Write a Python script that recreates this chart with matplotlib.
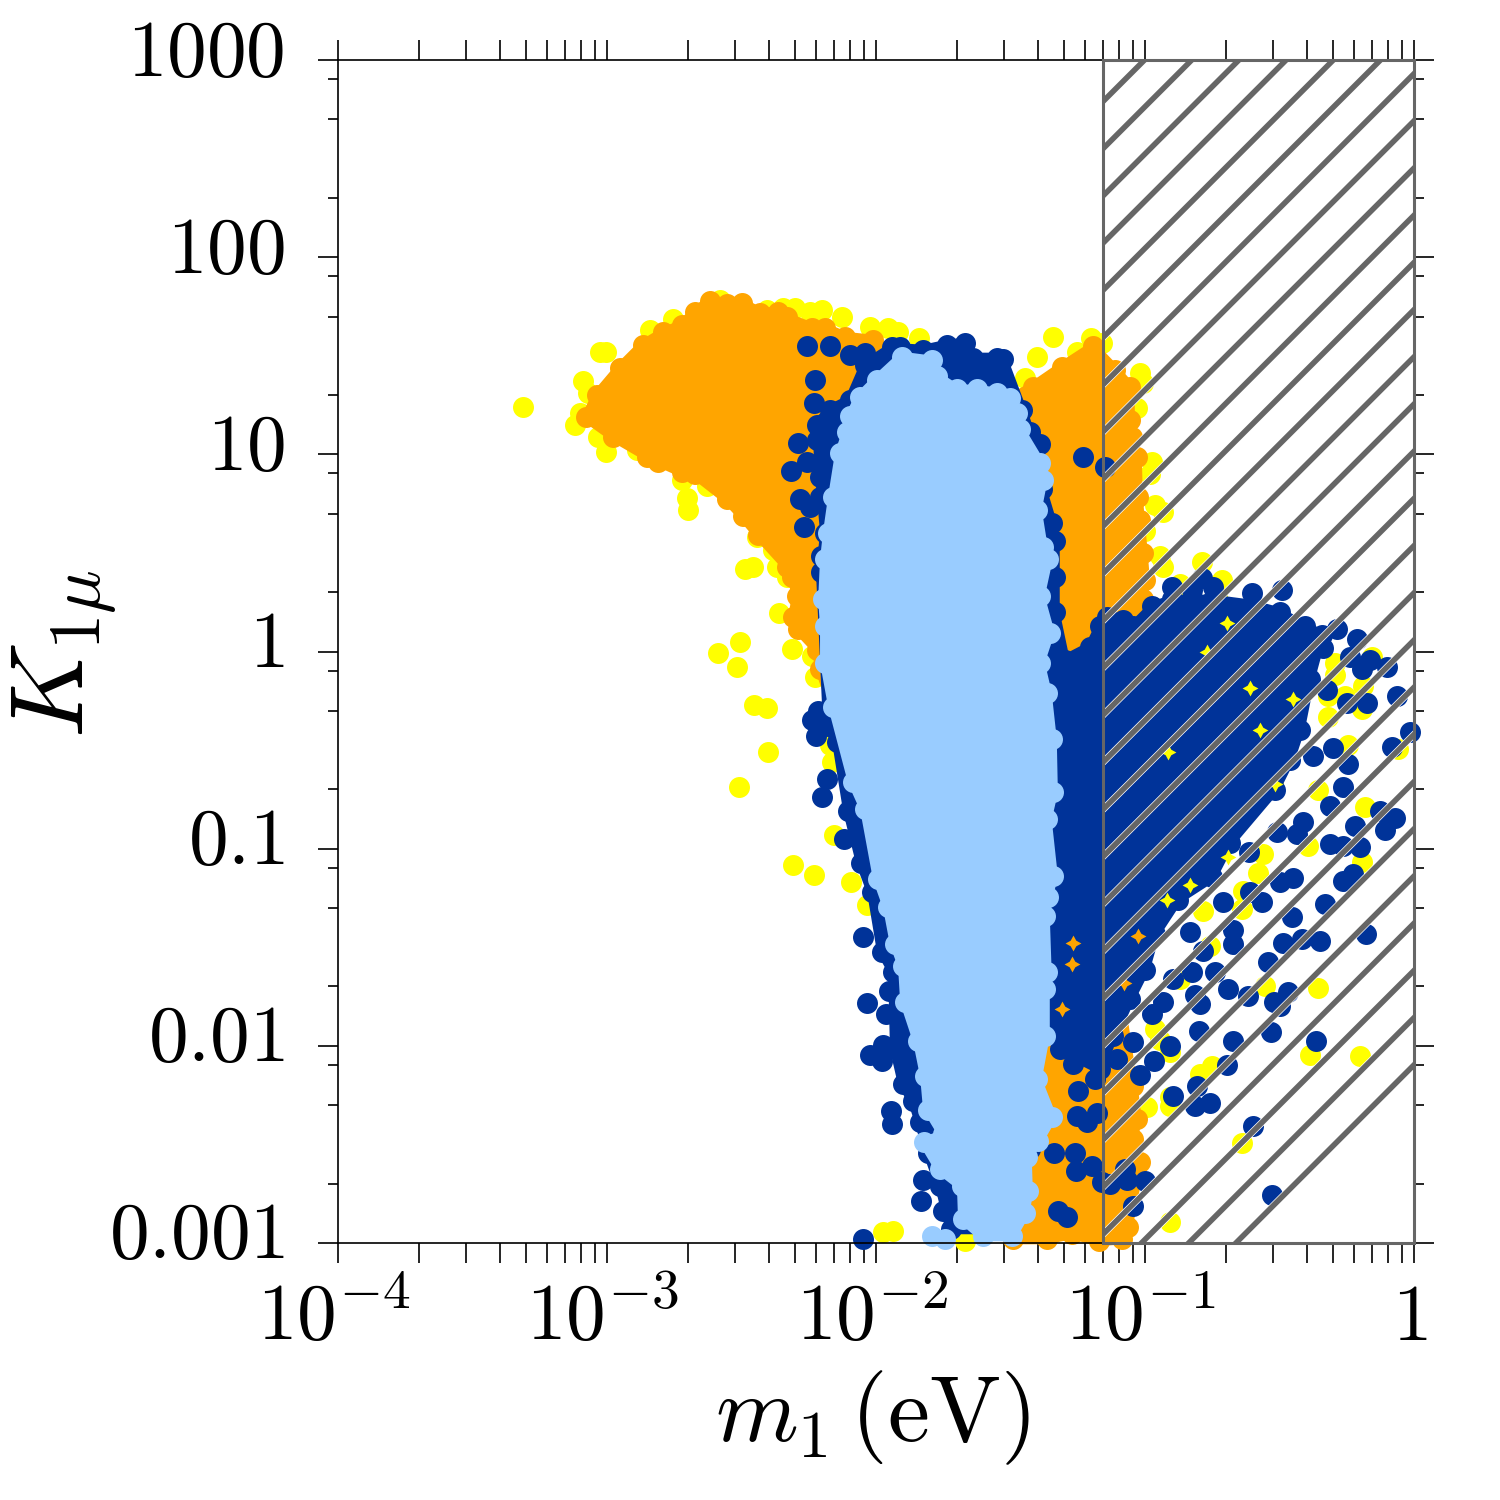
import numpy as np
import matplotlib
matplotlib.use("Agg")
import matplotlib.pyplot as plt
from matplotlib.ticker import FixedLocator, FixedFormatter, NullFormatter
from matplotlib.transforms import IdentityTransform, ScaledTranslation

plt.rcParams['mathtext.fontset'] = 'cm'
plt.rcParams['font.family'] = ['DejaVu Sans']

# All values are log10(m1 / eV), log10(K_1mu)
yellow_logm = [-3.312,-3.026,-3.004,-3.089,-3.071,-3.100,-3.119,-3.034,-3.004,-2.889,-2.840,-2.755,-2.580,-2.405,-2.346,-2.301,-2.246,-2.201,-2.127,-2.023,-1.956,-1.918,-1.840,
 -2.721,-2.703,-2.699,-2.628,-2.487,-2.457,-2.443,-2.383,-2.368,-2.331,-2.361,-2.506,-2.588,-2.517,-2.454,-2.405,-2.402,-2.312,-2.238,-2.227,-2.171,-2.164,-2.509,-2.156,-2.309,-2.231,-2.093,-2.034,-1.974,-1.937,-1.669,
 -1.342,-1.402,-1.446,-1.253,-1.201,-1.160,-1.019,-1.008,-1.030,-0.974,-0.982,-0.963,-0.933,-1.000,-0.945,-0.933,-0.788,-0.714,-0.870,-0.833,-0.733,
 -0.294,-0.294,-0.157,-0.190,-0.257,-0.320,-0.320,-0.194,-0.246,-0.060,-0.450,-0.573,-0.525,-0.915,-0.183,-0.357,-0.525,-0.394,-0.194,-0.562,-0.580,-0.636,-0.640,-0.785,-0.759,-0.870,-0.554,-0.357,-0.963,-0.945,-0.907,-0.387,-0.201,-0.796,-0.751,-0.907,-0.907,-0.993,-0.640,-0.907,-1.119,-1.216]
yellow_logK = [1.242,1.521,1.521,1.374,1.313,1.212,1.151,1.090,1.014,1.024,1.633,1.684,1.785,1.734,1.744,1.744,1.724,1.734,1.694,1.648,1.643,1.618,1.592,
 0.872,0.781,0.720,0.837,0.416,0.431,0.583,0.517,0.431,0.380,0.193,0.046,-0.010,-0.081,-0.269,-0.289,-0.512,0.015,-0.025,-0.127,-0.472,-0.558,-0.685,-0.933,-1.085,-1.136,-1.171,-1.288,-2.946,-2.941,-2.992,
 1.597,1.496,1.389,1.521,1.592,1.567,1.415,1.364,1.237,0.963,0.898,0.745,0.710,0.609,0.482,0.431,0.456,0.365,0.340,0.264,0.279,
 -0.056,-0.117,-0.030,-0.177,-0.228,-0.228,-0.330,-0.294,-0.472,-0.497,-0.243,-0.431,-0.436,-0.512,-0.791,-0.700,-0.674,-0.989,-1.070,-1.029,-1.121,-1.217,-1.308,-1.318,-1.496,-1.663,-1.699,-1.709,-1.917,-1.968,-2.033,-2.049,-2.054,-2.145,-2.104,-2.257,-2.307,-2.312,-2.495,-2.896,-2.459,-2.906]
# small patches of yellow and orange left showing through the navy cloud
yellow_gap_logm = [-0.696,-0.770,-0.610,-0.450,-0.573,-0.915,-0.517,-0.350,-0.833,-0.692,-0.919]
yellow_gap_logK = [0.147,0.000,-0.183,-0.243,-0.396,-0.512,-0.674,-0.715,-1.182,-1.040,-1.258]
orange_gap_logm = [-1.026,-1.078,-1.272,-1.268,-1.309]
orange_gap_logK = [-1.445,-1.679,-1.587,-1.476,-1.815]

orange_logm = [-3.078,-3.037,-2.952,-2.866,-2.792,-2.721,-2.673,-2.617,-2.554,-2.498,-2.431,-2.365,-2.331,-2.238,-2.190,-2.115,-2.011,-1.725,-1.502,-1.417,-1.309,-1.194,-1.112,-1.056,-1.056,-1.049,-1.030,-1.026,-1.019,-1.008,-1.000,-1.008,-1.093,-1.130,-1.093,-1.045,-1.030,-1.045,-1.019,-1.064,-1.086,-1.171,-1.272,-1.365,-1.491,-1.614,-1.911,-2.208,-2.220,-2.290,-2.309,-2.294,-2.312,-2.331,-2.439,-2.495,-2.554,-2.673,-2.721,-2.811,-2.851,-2.978]
orange_logK = [1.187,1.303,1.440,1.557,1.618,1.658,1.724,1.780,1.760,1.770,1.719,1.724,1.694,1.643,1.643,1.597,1.582,1.303,1.278,1.344,1.445,1.547,1.430,1.344,1.176,1.090,0.989,0.786,0.669,0.502,0.365,0.264,0.010,-1.258,-1.765,-2.206,-2.373,-2.475,-2.591,-2.921,-2.982,-2.992,-2.956,-2.982,-2.982,-2.525,-1.258,-0.091,0.010,0.112,0.177,0.279,0.380,0.431,0.593,0.685,0.771,0.898,0.908,0.963,0.989,1.090]

navy_edge_logm = [-2.097,-2.041,-1.941,-1.825,-1.736,-1.669,-1.640,-1.550,-1.528,-1.458,-1.428,-1.391,-1.383,-1.346,-1.335,-1.335,-1.335,-1.298,-1.205,-1.168,-1.142,-1.082,-1.045,-0.971,-0.900,-0.826,-0.748,-0.603,-0.499,-0.406,-0.342,-0.387,-0.424,-0.461,-0.517,-0.684,-0.751,-0.878,-0.963,-1.000,-1.056,-1.119,-1.168,-1.316,-1.391,-1.428,-1.539,-1.723,-1.762,-1.807,-1.837,-1.863,-1.900,-1.930,-1.937,-1.978,-2.015,-2.056,-2.104,-2.145,-2.179,-2.205,-2.190,-2.208,-2.220,-2.171]
navy_edge_logK = [1.278,1.455,1.542,1.531,1.557,1.567,1.491,1.491,1.481,1.227,1.111,1.050,0.822,0.654,0.558,0.380,0.198,-0.041,0.025,0.127,0.177,0.162,0.127,0.228,0.264,0.264,0.264,0.238,0.198,0.127,0.086,-0.142,-0.396,-0.548,-0.700,-0.969,-1.146,-1.258,-1.435,-1.613,-1.765,-1.952,-2.120,-2.018,-1.815,-2.525,-2.931,-2.931,-2.713,-2.541,-2.388,-2.282,-2.196,-2.018,-1.623,-1.526,-1.222,-1.075,-0.811,-0.461,-0.380,0.401,0.603,0.887,1.151,1.227]

navy_logm = [-2.257,-2.171,-2.097,-2.041,-1.911,-2.227,-2.231,-2.290,-2.316,-2.283,-2.268,-2.220,-2.257,-2.208,-2.246,-2.205,-2.238,-2.216,-2.223,-2.182,-2.201,-2.119,-2.048,-1.952,-2.034,-1.963,-1.881,-2.023,-1.974,-1.978,-1.944,-1.941,-1.825,-1.833,-1.751,-2.048,-1.513,
 -1.324,-1.290,-1.339,-1.261,-1.257,-1.197,-1.160,-1.130,-1.075,-1.067,-1.000,-1.045,-1.253,-1.216,-1.179,-1.249,-1.186,-1.268,-1.223,-1.272,-1.231,-1.149,
 -0.974,-0.900,-0.826,-0.788,-0.748,-0.603,-0.491,-0.287,-0.212,-0.338,-0.238,-0.194,-0.164,-0.101,-0.064,-0.015,-0.082,-0.175,-0.250,-0.324,-0.302,-0.246,-0.376,
 -0.071,-0.108,-0.127,-0.220,-0.264,-0.313,-0.313,-0.264,-0.201,-0.227,-0.264,-0.331,-0.179,-0.350,-0.417,-0.487,-0.454,-0.450,-0.499,-0.413,-0.435,-0.510,-0.614,-0.610,-0.565,-0.673,-0.673,-0.710,-0.543,-0.740,-0.785,-0.833,-0.826,-0.896,-0.692,-0.618,-0.469,-0.521,-0.499,-0.815,-0.796,-0.933,-0.974,-0.800,-0.673,-0.532,-0.365,-0.907,-0.967,-1.019,-0.696,-0.807,-0.896,-0.815,-0.759,-0.599,-0.528,-1.045,-1.104]
navy_logK = [1.547,1.547,1.506,1.516,1.542,1.379,1.258,1.060,0.913,0.771,0.629,1.075,0.963,0.786,0.735,0.482,-0.345,-0.304,-0.431,-0.649,-0.740,-0.953,-1.450,-1.724,-1.785,-1.841,-1.952,-2.044,-1.998,-2.079,-2.333,-2.394,-2.678,-2.789,-2.840,-2.982,-2.906,
 -2.840,-2.870,-2.541,-2.541,-2.637,-2.612,-2.693,-2.703,-2.627,-2.678,-2.688,-2.814,-2.358,-2.388,-2.343,-2.231,-2.170,-2.094,-1.978,-1.856,0.984,0.938,
 0.233,0.325,0.314,0.375,0.325,0.299,0.314,0.112,0.061,0.020,-0.030,-0.091,-0.041,-0.081,-0.228,-0.406,-0.482,-0.259,-0.259,-0.193,-0.487,-0.573,-0.532,
 -0.842,-0.903,-0.811,-0.887,-0.685,-0.786,-0.974,-0.989,-0.994,-1.131,-1.166,-1.283,-1.435,-1.466,-1.460,-1.476,-1.349,-1.151,-1.171,-0.867,-0.928,-0.913,-1.019,-1.222,-1.273,-1.410,-1.486,-1.273,-1.577,-1.623,-1.521,-1.425,-1.623,-1.663,-1.714,-1.749,-1.729,-1.780,-1.800,-1.744,-1.790,-1.780,-1.841,-1.927,-1.978,-1.932,-1.978,-2.003,-2.079,-2.150,-2.099,-2.206,-2.252,-2.307,-2.292,-2.409,-2.759,-1.983,-2.069]

light_edge_logm = [-1.904,-1.792,-1.773,-1.699,-1.625,-1.550,-1.502,-1.476,-1.465,-1.391,-1.380,-1.402,-1.380,-1.361,-1.391,-1.354,-1.391,-1.365,-1.346,-1.342,-1.365,-1.342,-1.361,-1.372,-1.365,-1.372,-1.372,-1.402,-1.346,-1.398,-1.439,-1.435,-1.446,-1.495,-1.603,-1.677,-1.681,-1.762,-1.822,-1.751,-1.807,-1.818,-1.844,-1.892,-1.900,-1.930,-1.956,-1.993,-2.041,-2.086,-2.160,-2.190,-2.190,-2.197,-2.190,-2.179,-2.160,-2.134,-2.108,-2.097,-2.060,-1.997]
light_edge_logK = [1.496,1.476,1.395,1.329,1.329,1.313,1.288,1.212,1.126,0.958,0.872,0.720,0.532,0.467,0.279,0.096,-0.056,-0.208,-0.446,-0.715,-0.852,-1.141,-1.247,-1.344,-1.628,-1.714,-1.952,-2.170,-2.363,-2.485,-2.566,-2.738,-2.850,-2.967,-2.967,-2.880,-2.713,-2.627,-2.490,-2.449,-2.323,-2.155,-1.978,-1.780,-1.597,-1.486,-1.298,-1.156,-0.801,-0.664,-0.279,-0.056,0.127,0.264,0.467,0.603,0.786,1.009,1.111,1.192,1.293,1.379]
light_logm = [-1.792,-1.744]
light_logK = [-2.967,-2.982]

excluded_m1 = [0.0698, 1.0]
y_major = [0.001, 0.01, 0.1, 1, 10, 100, 1000]
y_labels = ['$0.001$', '$0.01$', '$0.1$', '$1$', '$10$', '$100$', '$1000$']
x_major = [1e-4, 1e-3, 1e-2, 1e-1, 1]
x_labels = ['$10^{-4}$', '$10^{-3}$', '$10^{-2}$', '$10^{-1}$', '$1$']

YELLOW, ORANGE, NAVY, LIGHT = '#FFFF00', '#FFA500', '#003399', '#99CCFF'
GRAY = '#666666'
S = 228

fig = plt.figure(figsize=(15, 15), dpi=100)
ax = fig.add_axes([338/1500, 1-1243/1500, (1414-338)/1500, (1243-60)/1500])
ax.set_xscale('log')
ax.set_yscale('log')
ax.set_xlim(1e-4, 1)
ax.set_ylim(1e-3, 1e3)

def P(a):
    return 10.0 ** np.asarray(a)

def pts(lm, lk, c, z, s=S, marker='o'):
    ax.scatter(P(lm), P(lk), s=s, c=c, marker=marker, linewidths=0, clip_on=False, zorder=z)

def cloud(lm, lk, c, z):
    # the dense part of a cloud: its outermost dots and the area enclosed by them
    ax.fill(P(lm), P(lk), facecolor=c, edgecolor=c, lw=7, joinstyle='round', clip_on=False, zorder=z)
    pts(lm, lk, c, z)

pts(yellow_logm, yellow_logK, YELLOW, 2)
cloud(orange_logm, orange_logK, ORANGE, 3)
cloud(navy_edge_logm, navy_edge_logK, NAVY, 4)
pts(navy_logm, navy_logK, NAVY, 4)
pts(yellow_gap_logm, yellow_gap_logK, YELLOW, 4.5, s=130, marker=(4, 1, 0))
pts(orange_gap_logm, orange_gap_logK, ORANGE, 4.5, s=130, marker=(4, 1, 0))
cloud(light_edge_logm, light_edge_logK, LIGHT, 5)
pts(light_logm, light_logK, LIGHT, 5)

# excluded region with thick hatching
rect = ax.axvspan(excluded_m1[0], excluded_m1[1], facecolor='none', edgecolor=GRAY, lw=2.2, zorder=7, clip_on=False)
xs = np.array([1050.0, 1500.0])
for k in range(-6, 30):
    c = 2195.7 - 47.2 * k
    ys = 1500 - (c - xs)
    for col, w, z in (('white', 5.0, 6), (GRAY, 4.0, 6.5)):
        ln, = ax.plot(xs, ys, color=col, lw=w, transform=IdentityTransform(), zorder=z, solid_capstyle='butt')
        ln.set_clip_path(rect)
ax.set_xlim(1e-4, 1)
ax.set_ylim(1e-3, 1e3)

for s in ax.spines.values():
    s.set_linewidth(1.2)
    s.set_color('black')
    s.set_zorder(6)

ax.xaxis.set_major_locator(FixedLocator(x_major))
ax.xaxis.set_major_formatter(FixedFormatter(x_labels))
x_minor = [m * 10.0 ** e for e in range(-4, 0) for m in range(2, 10)]
ax.xaxis.set_minor_locator(FixedLocator(x_minor))
ax.xaxis.set_minor_formatter(NullFormatter())
ax.yaxis.set_major_locator(FixedLocator(y_major))
ax.yaxis.set_major_formatter(FixedFormatter(y_labels))
y_minor = [m * 10.0 ** e for e in range(-3, 3) for m in (2, 5, 8)]
ax.yaxis.set_minor_locator(FixedLocator(y_minor))
ax.yaxis.set_minor_formatter(NullFormatter())
ax.tick_params(axis='x', which='both', direction='out', top=True, bottom=True, length=14.4, width=1.2, labelsize=57, pad=12.5)
ax.tick_params(axis='y', which='major', direction='out', left=True, right=True, length=14.4, width=1.2, labelsize=57, pad=24)
ax.tick_params(axis='y', which='minor', direction='out', left=True, right=True, length=7.2, width=1.2)

up = ScaledTranslation(0, 14.5/100, fig.dpi_scale_trans)
for lab in ax.get_yticklabels():
    lab.set_transform(lab.get_transform() + up)
left = ScaledTranslation(-4/100, 0, fig.dpi_scale_trans)
for lab in ax.get_xticklabels():
    lab.set_transform(lab.get_transform() + left)

fig.text(872/1500, 1-1418/1500, r'$m_1\,(\mathrm{eV})$', fontsize=68, ha='center', va='center')
fig.text(65/1500, 1-654/1500, r'$K_{1\mu}$', fontsize=75, ha='center', va='center', rotation=90)

fig.savefig('out.png', dpi=100)
